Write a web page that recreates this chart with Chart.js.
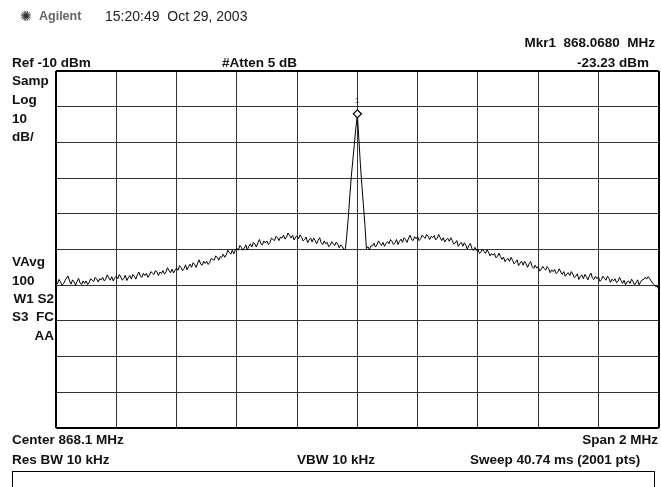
<!DOCTYPE html>
<html>
<head>
<meta charset="utf-8">
<script src="https://cdn.jsdelivr.net/npm/chart.js@4.4.1/dist/chart.umd.min.js"></script>
<style>
  html, body { margin:0; padding:0; background:#fff; }
  #wrap { position:relative; width:661px; height:487px; overflow:hidden; background:#fff; }
  #c { position:absolute; left:0; top:0; }
  .t { position:absolute; font-family:"Liberation Sans", Arial, sans-serif; font-weight:bold; font-size:13.5px; line-height:16px; color:#111; white-space:pre; }
  .n { font-weight:normal; }
  #box { position:absolute; left:12px; top:471px; width:641px; height:40px; border:1.5px solid #000; }
</style>
</head>
<body>
<div id="wrap">
  <canvas id="c" width="664" height="487"></canvas>
  <div class="t n" style="left:20px;top:8px;font-size:14px;color:#333;font-family:'DejaVu Sans';">✺</div>
  <div class="t" style="left:39px;top:8px;font-size:12.5px;color:#666;">Agilent</div>
  <div class="t n" style="left:105px;top:8px;font-size:14px;color:#222;">15:20:49  Oct 29, 2003</div>
  <div class="t" style="right:6px;top:35px;">Mkr1  868.0680  MHz</div>
  <div class="t" style="right:12px;top:55px;">-23.23 dBm</div>
  <div class="t" style="left:12px;top:55px;">Ref -10 dBm</div>
  <div class="t" style="left:222px;top:55px;">#Atten 5 dB</div>
  <div class="t" style="left:12px;top:73px;">Samp</div>
  <div class="t" style="left:12px;top:92px;">Log</div>
  <div class="t" style="left:12px;top:111px;">10</div>
  <div class="t" style="left:12px;top:129px;">dB/</div>
  <div class="t" style="left:12px;top:254px;">VAvg</div>
  <div class="t" style="left:12px;top:273px;">100</div>
  <div class="t" style="right:607px;top:291px;">W1 S2</div>
  <div class="t" style="right:607px;top:309px;">S3  FC</div>
  <div class="t" style="right:607px;top:328px;">AA</div>
  <div class="t n" style="left:355px;top:97px;font-size:8px;line-height:8px;">1</div>
  <div class="t" style="left:12px;top:432px;">Center 868.1 MHz</div>
  <div class="t" style="right:3px;top:432px;">Span 2 MHz</div>
  <div class="t" style="left:12px;top:452px;">Res BW 10 kHz</div>
  <div class="t" style="left:297px;top:452px;">VBW 10 kHz</div>
  <div class="t" style="left:470px;top:452px;">Sweep 40.74 ms (2001 pts)</div>
  <div id="box"></div>
</div>
<script>
// ---- data ----
const startFreqMHz = 867.1;
const stopFreqMHz = 869.1;
const freqStepMHz = 0.005;           // spacing of the traced points
const refLevelDbm = -10;
const bottomLevelDbm = -110;
const xGridStepMHz = 0.2;
const yGridStepDb = 10;

// trace amplitude (dBm), one value every 5 kHz from 867.1 to 869.1 MHz
const traceDbm = [
 -68.9,-69.6,-68.4,-69.1,-70.0,-69.5,-68.7,-68.0,-67.4,-68.8,
 -69.7,-68.5,-69.1,-70.0,-68.9,-68.1,-69.4,-69.8,-68.8,-69.5,
 -68.8,-69.8,-69.3,-68.2,-68.6,-69.0,-67.8,-68.2,-69.1,-68.2,
 -68.5,-67.8,-68.8,-68.3,-67.1,-67.9,-68.6,-67.6,-68.8,-67.9,
 -67.5,-68.2,-67.0,-67.7,-68.6,-68.1,-67.2,-68.7,-67.9,-67.3,
 -68.3,-67.0,-67.5,-68.3,-67.1,-66.3,-67.5,-67.8,-66.7,-67.3,
 -66.7,-67.8,-67.2,-66.2,-66.6,-67.0,-65.9,-66.3,-67.3,-66.3,
 -66.7,-65.9,-66.9,-66.3,-65.1,-65.9,-66.5,-65.5,-66.6,-65.7,
 -65.2,-65.8,-64.5,-65.1,-65.9,-65.3,-64.3,-65.7,-64.8,-64.1,
 -65.0,-63.7,-64.2,-65.0,-63.8,-62.9,-64.1,-64.4,-63.3,-63.9,
 -63.3,-64.2,-63.6,-62.5,-62.8,-63.0,-61.8,-62.2,-63.0,-62.0,
 -62.2,-61.3,-62.2,-61.5,-60.2,-60.8,-61.3,-60.2,-61.2,-60.2,
 -59.6,-60.2,-58.9,-59.4,-60.2,-59.6,-58.7,-60.1,-59.1,-58.4,
 -59.3,-58.0,-58.5,-59.3,-58.1,-57.2,-58.4,-58.7,-57.6,-58.2,
 -57.6,-58.6,-58.0,-56.8,-57.2,-57.5,-56.3,-56.7,-57.5,-56.5,
 -56.8,-56.0,-57.1,-56.5,-55.4,-56.1,-56.8,-56.0,-57.3,-56.5,
 -56.2,-57.0,-55.9,-56.6,-57.6,-57.2,-56.5,-58.1,-57.3,-56.8,
 -57.9,-56.8,-57.5,-58.4,-57.4,-56.7,-58.1,-58.6,-57.6,-58.4,
 -58.0,-59.2,-58.8,-57.8,-58.4,-58.9,-57.9,-58.5,-59.5,-58.7,
 -59.2,-59.9,-60.1,-56.0,-51.0,-45.0,-39.5,-35.0,-30.5,-26.0,
 -22.2,-29.0,-36.0,-42.0,-47.5,-53.0,-59.8,-59.2,-60.0,-59.0,
 -59.0,-58.2,-59.3,-58.7,-57.6,-58.3,-58.9,-58.0,-59.1,-58.3,
 -57.8,-58.4,-57.2,-57.8,-58.6,-58.1,-57.2,-58.6,-57.7,-57.1,
 -58.0,-56.7,-57.2,-58.0,-56.8,-56.0,-57.2,-57.5,-56.4,-57.0,
 -56.4,-57.5,-57.0,-56.0,-56.5,-56.9,-55.8,-56.3,-57.2,-56.3,
 -56.7,-56.1,-57.3,-56.8,-55.8,-56.7,-57.5,-56.7,-57.9,-57.2,
 -56.9,-57.7,-56.7,-57.5,-58.5,-58.2,-57.5,-59.1,-58.4,-58.0,
 -59.1,-58.1,-58.8,-59.9,-58.9,-58.3,-59.7,-60.3,-59.4,-60.3,
 -59.9,-61.1,-60.8,-59.9,-60.5,-61.1,-60.1,-60.7,-61.8,-61.1,
 -61.6,-61.1,-62.3,-62.0,-61.0,-62.0,-62.8,-62.1,-63.4,-62.8,
 -62.5,-63.3,-62.2,-63.0,-64.0,-63.6,-62.9,-64.5,-63.8,-63.3,
 -64.4,-63.3,-64.0,-65.0,-64.0,-63.4,-64.8,-65.3,-64.4,-65.2,
 -64.8,-66.0,-65.6,-64.7,-65.3,-65.8,-64.8,-65.4,-66.5,-65.7,
 -66.2,-65.6,-66.8,-66.4,-65.4,-66.3,-67.0,-66.2,-67.5,-66.8,
 -66.5,-67.3,-66.2,-66.9,-67.9,-67.5,-66.8,-68.4,-67.6,-67.1,
 -68.2,-67.0,-67.6,-68.5,-67.4,-66.6,-68.0,-68.4,-67.5,-68.2,
 -67.7,-68.9,-68.4,-67.5,-68.1,-68.6,-67.5,-68.1,-69.2,-68.3,
 -68.8,-68.2,-69.3,-68.9,-67.8,-68.7,-69.5,-68.6,-69.9,-69.1,
 -68.8,-69.5,-68.3,-69.0,-69.9,-69.3,-68.5,-69.9,-69.1,-68.5,
 -68.4,-67.8,-68.3,-67.6,-68.2,-68.8,-69.4,-69.9,-70.4,-70.2,-71.2
];

// marker 1 (diamond) as seen on the trace
const markerFreqMHz = [868.1];
const markerLevelDbm = [-22.0];

// ---- build chart ----
const tracePoints = traceDbm.map((v, i) => ({ x: startFreqMHz + i * freqStepMHz, y: v }));
const markerPoints = markerFreqMHz.map((f, i) => ({ x: f, y: markerLevelDbm[i] }));

const edgeColor = ctx => (ctx.index === 0 || ctx.index === 10) ? '#000' : '#333';
const edgeWidth = ctx => (ctx.index === 0 || ctx.index === 10) ? 2 : 1;

new Chart(document.getElementById('c'), {
  type: 'scatter',
  data: {
    datasets: [
      {
        data: markerPoints,
        showLine: false,
        pointStyle: 'rectRot',
        pointRadius: 4,
        pointBorderWidth: 1.3,
        pointBorderColor: '#000',
        pointBackgroundColor: '#fff',
        order: 0
      },
      {
        data: tracePoints,
        showLine: true,
        borderColor: '#000',
        borderWidth: 1,
        pointRadius: 0,
        tension: 0,
        order: 1
      }
    ]
  },
  options: {
    responsive: false,
    animation: false,
    events: [],
    layout: { padding: { left: 56, top: 71, right: 2, bottom: 59 } },
    plugins: { legend: { display: false }, tooltip: { enabled: false } },
    scales: {
      x: {
        type: 'linear', min: startFreqMHz, max: stopFreqMHz,
        ticks: { display: false, stepSize: xGridStepMHz },
        grid: { drawTicks: false, color: edgeColor, lineWidth: edgeWidth },
        border: { display: false }
      },
      y: {
        type: 'linear', min: bottomLevelDbm, max: refLevelDbm,
        ticks: { display: false, stepSize: yGridStepDb },
        grid: { drawTicks: false, color: edgeColor, lineWidth: edgeWidth },
        border: { display: false }
      }
    }
  }
});
</script>
</body>
</html>
